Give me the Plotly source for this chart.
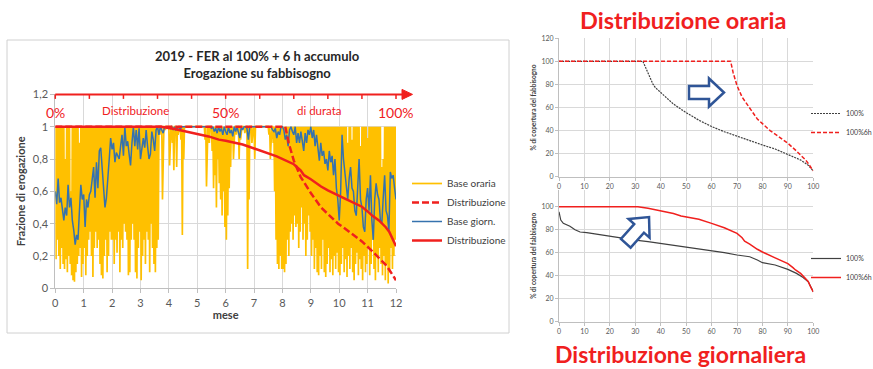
import numpy as np
import plotly.graph_objects as go

W, H = 873, 369

# ---------------- left chart: year 2019, x in months (step 0.05 month) ----------------
PASSO = 0.05

# daily supply / demand ratio ("Base giorn.")
base_giorn = [
    0.60, 0.52, 0.68, 0.53, 0.56, 0.50, 0.42, 0.50, 0.45, 0.64, 0.50, 0.56, 0.42, 0.36, 0.27, 0.33, 0.30, 0.48, 0.64, 0.55,
    0.58, 0.38, 0.55, 0.50, 0.58, 0.60, 0.66, 0.75, 0.56, 0.78, 0.62, 0.85, 0.87, 0.74, 0.62, 0.50, 0.56, 0.66, 0.80, 0.93,
    0.86, 0.90, 0.78, 0.84, 0.82, 0.80, 0.88, 0.95, 0.82, 1.00, 0.88, 0.91, 0.83, 0.76, 0.90, 1.00, 0.88, 0.98, 0.86, 0.99,
    0.80, 0.86, 0.93, 0.87, 0.98, 0.88, 0.80, 0.83, 0.97, 0.92, 0.85, 0.98, 1.00, 0.95, 1.00, 0.98, 0.96, 1.00, 1.00, 1.00,
    1.00, 0.99, 1.00, 0.98, 1.00, 0.98, 0.99, 1.00, 0.98, 1.00, 1.00, 1.00, 1.00, 1.00, 1.00, 1.00, 1.00, 1.00, 1.00, 1.00,
    1.00, 1.00, 1.00, 1.00, 1.00, 1.00, 1.00, 1.00, 1.00, 1.00, 0.99, 1.00, 0.97, 0.99, 0.96, 1.00, 0.97, 0.99, 0.95, 1.00,
    0.97, 0.95, 1.00, 0.96, 0.98, 0.94, 1.00, 0.97, 1.00, 0.96, 0.93, 1.00, 0.98, 1.00, 1.00, 0.99, 0.92, 1.00, 1.00, 1.00,
    1.00, 1.00, 1.00, 1.00, 1.00, 1.00, 1.00, 1.00, 1.00, 1.00, 1.00, 1.00, 1.00, 0.98, 0.97, 0.99, 0.93, 0.97, 0.95, 1.00,
    1.00, 0.98, 0.92, 0.95, 0.88, 0.98, 1.00, 0.97, 0.95, 1.00, 0.90, 0.96, 0.90, 0.97, 0.92, 0.85, 0.96, 0.90, 0.98, 0.95,
    1.00, 0.93, 0.98, 0.88, 0.95, 0.85, 0.79, 0.90, 0.82, 0.85, 0.77, 0.80, 0.73, 0.85, 0.78, 0.82, 0.70, 0.80, 0.62, 0.55,
    0.42, 0.60, 0.95, 0.80, 0.70, 0.62, 0.55, 0.68, 0.75, 0.62, 0.60, 0.48, 0.45, 0.62, 0.80, 0.55, 0.50, 0.38, 0.35, 0.55,
    0.62, 0.48, 0.70, 0.42, 0.30, 0.55, 0.65, 0.58, 0.55, 0.42, 0.40, 0.56, 0.70, 0.48, 0.45, 0.35, 0.72, 0.68, 0.70, 0.62,
    0.55,
]

# hourly ratio ("Base oraria"): lowest and highest hour in each 0.05-month slot
oraria_min = [
    0.18, 0.30, 0.20, 0.12, 0.25, 0.15, 0.12, 0.18, 0.10, 0.20, 0.15, 0.08, 0.05, 0.04, 0.10, 0.15, 0.20, 0.25, 0.07, 0.15,
    0.25, 0.08, 0.20, 0.30, 0.35, 0.20, 0.07, 0.25, 0.35, 0.25, 0.30, 0.15, 0.08, 0.06, 0.20, 0.30, 0.10, 0.20, 0.35, 0.30,
    0.30, 0.15, 0.30, 0.22, 0.35, 0.10, 0.30, 0.25, 0.40, 0.35, 0.30, 0.08, 0.10, 0.30, 0.40, 0.30, 0.10, 0.06, 0.25, 0.35,
    0.05, 0.20, 0.30, 0.15, 0.35, 0.30, 0.10, 0.40, 0.25, 0.15, 0.10, 0.25, 0.30, 1.00, 0.95, 0.55, 1.00, 0.98, 1.00, 1.00,
    0.76, 1.00, 0.90, 0.73, 1.00, 0.75, 0.95, 1.00, 0.92, 0.33, 0.80, 1.00, 1.00, 1.00, 1.00, 1.00, 1.00, 1.00, 1.00, 1.00,
    1.00, 1.00, 1.00, 1.00, 1.00, 0.92, 0.63, 1.00, 0.90, 1.00, 0.85, 0.62, 0.70, 0.50, 0.80, 0.65, 0.55, 0.45, 0.60, 0.38,
    0.30, 0.45, 0.62, 0.75, 0.90, 0.80, 1.00, 0.95, 1.00, 0.80, 0.92, 1.00, 1.00, 0.96, 1.00, 0.12, 0.55, 1.00, 0.90, 1.00,
    0.80, 1.00, 1.00, 1.00, 1.00, 1.00, 1.00, 1.00, 1.00, 1.00, 0.95, 0.80, 1.00, 0.90, 0.60, 0.30, 0.15, 0.12, 0.20, 0.12,
    0.12, 0.10, 0.15, 0.30, 0.20, 0.35, 0.40, 0.30, 0.45, 0.38, 0.40, 0.25, 0.35, 0.50, 0.30, 0.40, 0.20, 0.30, 0.45, 0.35,
    0.20, 0.30, 0.12, 0.25, 0.10, 0.08, 0.20, 0.12, 0.30, 0.10, 0.07, 0.15, 0.25, 0.10, 0.18, 0.08, 0.20, 0.12, 0.22, 0.10,
    0.08, 0.15, 0.25, 0.10, 0.18, 0.07, 0.20, 0.12, 0.25, 0.10, 0.05, 0.15, 0.22, 0.08, 0.18, 0.12, 0.05, 0.20, 0.10, 0.15,
    0.25, 0.08, 0.15, 0.30, 0.12, 0.05, 0.20, 0.10, 0.25, 0.15, 0.08, 0.20, 0.05, 0.15, 0.03, 0.10, 0.25, 0.12, 0.20, 0.30,
    0.35,
]
oraria_max = [
    1.00, 1.00, 1.00, 1.00, 1.00, 1.00, 1.00, 0.80, 1.00, 1.00, 1.00, 0.60, 1.00, 1.00, 1.00, 1.00, 1.00, 0.90, 1.00, 1.00,
    1.00, 1.00, 1.00, 1.00, 1.00, 1.00, 1.00, 1.00, 1.00, 1.00, 1.00, 1.00, 1.00, 1.00, 1.00, 1.00, 1.00, 1.00, 1.00, 1.00,
    1.00, 1.00, 1.00, 1.00, 1.00, 1.00, 1.00, 1.00, 1.00, 1.00, 1.00, 1.00, 1.00, 1.00, 1.00, 1.00, 1.00, 1.00, 1.00, 1.00,
    1.00, 1.00, 1.00, 1.00, 1.00, 1.00, 1.00, 1.00, 1.00, 1.00, 1.00, 1.00, 1.00, 1.00, 1.00, 1.00, 1.00, 1.00, 1.00, 1.00,
    1.00, 1.00, 1.00, 1.00, 1.00, 1.00, 1.00, 1.00, 1.00, 1.00, 1.00, 1.00, 1.00, 1.00, 1.00, 1.00, 1.00, 1.00, 1.00, 1.00,
    1.00, 1.00, 1.00, 1.00, 1.00, 1.00, 1.00, 1.00, 1.00, 1.00, 1.00, 1.00, 1.00, 1.00, 1.00, 1.00, 1.00, 1.00, 1.00, 1.00,
    1.00, 1.00, 1.00, 1.00, 1.00, 1.00, 1.00, 1.00, 1.00, 1.00, 1.00, 1.00, 1.00, 1.00, 1.00, 1.00, 1.00, 1.00, 1.00, 1.00,
    1.00, 1.00, 1.00, 1.00, 1.00, 1.00, 1.00, 1.00, 1.00, 1.00, 1.00, 1.00, 1.00, 1.00, 1.00, 1.00, 1.00, 1.00, 1.00, 1.00,
    1.00, 1.00, 1.00, 1.00, 1.00, 1.00, 1.00, 1.00, 1.00, 1.00, 1.00, 1.00, 1.00, 1.00, 1.00, 1.00, 1.00, 1.00, 1.00, 1.00,
    1.00, 1.00, 1.00, 1.00, 1.00, 1.00, 1.00, 1.00, 1.00, 1.00, 1.00, 1.00, 1.00, 1.00, 1.00, 1.00, 1.00, 1.00, 1.00, 1.00,
    1.00, 1.00, 1.00, 1.00, 1.00, 1.00, 0.90, 1.00, 1.00, 0.92, 1.00, 1.00, 1.00, 1.00, 1.00, 0.88, 1.00, 1.00, 1.00, 1.00,
    0.93, 1.00, 1.00, 1.00, 1.00, 1.00, 1.00, 1.00, 1.00, 1.00, 0.75, 0.80, 1.00, 1.00, 1.00, 1.00, 1.00, 1.00, 1.00, 1.00,
    1.00,
]

# ---------------- duration curves: % of the year vs % of demand covered ----------------
# hourly, FER 100%
dur_ora_x = [0, 33, 34, 35, 36, 37, 38, 40, 43, 45, 47, 50, 55, 60, 65, 70, 75, 80, 85, 90, 95, 98, 100]
dur_ora_y = [100, 100, 95, 90, 85, 80, 77, 73, 67, 63, 60, 55.5, 49, 43.5, 39, 35, 31.5, 27.5, 24, 19.5, 14.5, 10, 5]
# hourly, FER 100% + 6 h storage
dur_ora6_x = [0, 67.5, 68.5, 70, 72, 75, 78, 80, 83, 85, 88, 90, 93, 95, 97, 98, 99, 100]
dur_ora6_y = [100, 100, 90, 79, 69, 59, 50, 46, 40, 37, 32, 29, 23, 19, 14.5, 11.5, 8.5, 5]
# daily, FER 100%
dur_gio_x = [0, 0.7, 1.7, 4.3, 6.3, 8.3, 10.9, 14.8, 18.7, 24, 30, 35, 40, 45, 50, 55, 60, 65, 70, 75,
             78, 80, 85, 90, 93.4, 96, 98, 99, 100]
dur_gio_y = [95.6, 88.4, 85.5, 83, 80, 78, 77.4, 76, 74.5, 72.5, 71, 69.6, 68, 66.7, 64.6, 62.9, 61.7, 60, 58, 56.5,
             53.6, 51.3, 49.3, 45.5, 42, 38.5, 34.8, 30, 26]
# daily, FER 100% + 6 h storage
dur_gio6_x = [0, 31, 35, 40, 45, 48, 50, 55, 60, 63, 65, 70, 72, 73, 75, 78, 80, 85, 90, 92, 93, 95, 97, 98, 99, 100]
dur_gio6_y = [100, 100, 98.6, 96.5, 94, 92, 91.3, 89, 85.5, 83, 81.7, 76.8, 73, 70, 67.5, 63, 60.6, 55.5, 50.5, 47,
              45, 42, 37.8, 35, 30, 26]

MESI = 12
FONT = "Lato, 'Open Sans', sans-serif"
ROSSO = "#F0201E"
GIALLO = "#FFC000"
BLU = "#3572AE"
GRIGIO = "#404040"
GRID = "#D9D9D9"


def px(x):
    return x / W


def py(y):
    return 1 - y / H


# plot-area edges in pixels
L_X0, L_X1, L_Y0, L_Y1 = 55.3, 396.0, 288.3, 94.4        # left: 0..12 months, 0..1.2
R_X0, R_X1 = 559.0, 813.3
T_Y0, T_Y1 = 176.7, 38.3                                  # top right: 0..120
B_Y0, B_Y1 = 321.7, 190.0                                 # bottom right
B_TOP = 100 * (B_Y0 - B_Y1) / (B_Y0 - 206.7)


def lx(m):
    return L_X0 + m * (L_X1 - L_X0) / MESI


def ly(v):
    return L_Y0 - v * (L_Y0 - L_Y1) / 1.2


# hourly series drawn as a dense zig-zag between slot max and min
t = np.arange(len(oraria_max)) * PASSO
zx = np.empty(2 * len(t))
zy = np.empty(2 * len(t))
zx[0::2], zx[1::2] = t, t + PASSO / 2
zy[0::2], zy[1::2] = oraria_max, oraria_min
zx, zy = zx[:-1], zy[:-1]

fig = go.Figure()

fig.add_trace(go.Scatter(x=zx, y=zy, mode="lines", name="Base oraria", legend="legend", legendrank=1,
                         line=dict(color=GIALLO, width=1.7)))
fig.add_trace(go.Scatter(x=t, y=base_giorn, mode="lines", name="Base giorn.", legend="legend", legendrank=3,
                         line=dict(color=BLU, width=1.5)))
fig.add_trace(go.Scatter(x=np.array(dur_ora6_x) * MESI / 100, y=np.array(dur_ora6_y) / 100, mode="lines",
                         name="Distribuzione", legend="legend", legendrank=2,
                         line=dict(color=ROSSO, width=2.5, dash="7px,3px")))
fig.add_trace(go.Scatter(x=np.array(dur_gio6_x) * MESI / 100, y=np.array(dur_gio6_y) / 100, mode="lines",
                         name="Distribuzione", legend="legend", legendrank=4,
                         line=dict(color=ROSSO, width=2.5)))

# top right: hourly duration curves
fig.add_trace(go.Scatter(x=dur_ora_x, y=dur_ora_y, mode="lines", name="100%", legend="legend2",
                         xaxis="x2", yaxis="y2", line=dict(color=GRIGIO, width=1.2, dash="2px,1px")))
fig.add_trace(go.Scatter(x=dur_ora6_x, y=dur_ora6_y, mode="lines", name="100%6h", legend="legend2",
                         xaxis="x2", yaxis="y2", line=dict(color=ROSSO, width=1.5, dash="4px,2px")))

# bottom right: daily duration curves
fig.add_trace(go.Scatter(x=dur_gio_x, y=dur_gio_y, mode="lines", name="100%", legend="legend3",
                         xaxis="x3", yaxis="y3", line=dict(color=GRIGIO, width=1.2)))
fig.add_trace(go.Scatter(x=dur_gio6_x, y=dur_gio6_y, mode="lines", name="100%6h", legend="legend3",
                         xaxis="x3", yaxis="y3", line=dict(color=ROSSO, width=1.5)))

small_tick = dict(size=7, color="#595959", family=FONT)
axis_common = dict(showgrid=True, gridcolor=GRID, gridwidth=1, zeroline=False, showline=True,
                   linecolor="#BFBFBF", ticks="outside", tickcolor="#BFBFBF")

fig.update_layout(
    width=W, height=H,
    margin=dict(l=0, r=0, t=0, b=0, autoexpand=False),
    paper_bgcolor="white", plot_bgcolor="white",
    separators=",.",
    font=dict(family=FONT, color=GRIGIO),
    xaxis=dict(domain=[px(L_X0), px(L_X1)], range=[0, MESI], dtick=1, tick0=0, ticklen=4, anchor="y",
               tickfont=dict(size=11, color="#595959"),
               title=dict(text="<b>mese</b>", font=dict(size=11, color=GRIGIO), standoff=3), **axis_common),
    yaxis=dict(domain=[py(L_Y0), py(L_Y1)], range=[0, 1.2], dtick=0.2, tick0=0, ticklen=4, anchor="x",
               tickfont=dict(size=11, color="#595959"),
               title=dict(text="<b>Frazione di erogazione</b>", font=dict(size=11, color=GRIGIO), standoff=4),
               **axis_common),
    xaxis2=dict(domain=[px(R_X0), px(R_X1)], range=[0, 100], dtick=10, tick0=0, ticklen=3, anchor="y2",
                tickfont=small_tick, **axis_common),
    yaxis2=dict(domain=[py(T_Y0), py(T_Y1)], range=[0, 120], dtick=20, tick0=0, ticklen=3, anchor="x2",
                tickfont=small_tick,
                title=dict(text="<b>% di copertura del fabbisogno</b>", font=dict(size=6.5, color=GRIGIO), standoff=4),
                **axis_common),
    xaxis3=dict(domain=[px(R_X0), px(R_X1)], range=[0, 100], dtick=10, tick0=0, ticklen=3, anchor="y3",
                tickfont=small_tick, **axis_common),
    yaxis3=dict(domain=[py(B_Y0), py(B_Y1)], range=[0, B_TOP], tickvals=[0, 20, 40, 60, 80, 100], ticklen=3,
                anchor="x3", tickfont=small_tick,
                title=dict(text="<b>% di copertura del fabbisogno</b>", font=dict(size=6.5, color=GRIGIO), standoff=4),
                **axis_common),
    legend=dict(x=px(407), y=py(169), xanchor="left", yanchor="top", bgcolor="rgba(0,0,0,0)",
                font=dict(size=10, color=GRIGIO), tracegroupgap=0),
    legend2=dict(x=px(806), y=py(99), xanchor="left", yanchor="top", bgcolor="rgba(0,0,0,0)",
                 font=dict(size=7, color=GRIGIO), tracegroupgap=0),
    legend3=dict(x=px(806), y=py(244), xanchor="left", yanchor="top", bgcolor="rgba(0,0,0,0)",
                 font=dict(size=7, color=GRIGIO), tracegroupgap=0),
)

shapes = []
# frame of the left chart
shapes.append(dict(type="rect", xref="paper", yref="paper", x0=px(7), x1=px(509), y0=py(333), y1=py(40),
                   line=dict(color="#D0D0D0", width=1), layer="below"))
# red duration arrow along the top of the left chart
shapes.append(dict(type="line", xref="paper", yref="paper", x0=px(lx(0)), x1=px(404), y0=py(ly(1.2)), y1=py(ly(1.2)),
                   line=dict(color=ROSSO, width=2)))
shapes.append(dict(type="path", xref="paper", yref="paper", fillcolor=ROSSO, line=dict(color=ROSSO, width=1),
                   path=f"M{px(402)},{py(ly(1.2) - 5)} L{px(412.5)},{py(ly(1.2))} L{px(402)},{py(ly(1.2) + 5)} Z"))
for k in range(11):
    m = k * MESI / 10
    shapes.append(dict(type="line", xref="paper", yref="paper", x0=px(lx(m)), x1=px(lx(m)),
                       y0=py(ly(1.2)), y1=py(ly(1.2) + 4.5), line=dict(color=ROSSO, width=1.5)))


# hollow block arrows on the right charts
def freccia(cx, cy, ang_deg, lung=35, corpo=20, semi_c=6.5, semi_t=14):
    a = np.radians(ang_deg)
    d = np.array([np.cos(a), np.sin(a)])
    n = np.array([-d[1], d[0]])
    c = np.array([cx, cy])
    pts = [c + semi_c * n, c + corpo * d + semi_c * n, c + corpo * d + semi_t * n, c + lung * d,
           c + corpo * d - semi_t * n, c + corpo * d - semi_c * n, c - semi_c * n]
    return "M" + " L".join(f"{px(p[0]):.5f},{py(p[1]):.5f}" for p in pts) + " Z"


for cx, cy, ang in [(689, 92.5, 0), (625.8, 243.3, -48.4)]:
    shapes.append(dict(type="path", xref="paper", yref="paper", path=freccia(cx, cy, ang),
                       fillcolor="white", line=dict(color="#2F5597", width=2.5)))

annotations = [
    dict(x=px(257.7), y=py(65), text="<b>2019 - FER al 100% + 6 h accumulo</b><br><b>Erogazione su fabbisogno</b>",
         font=dict(size=13, color="#262626")),
    dict(x=px(lx(0)), y=py(112.7), text="0%", font=dict(size=14, color=ROSSO)),
    dict(x=px(135.7), y=py(111), text="Distribuzione", font=dict(size=11.5, color=ROSSO)),
    dict(x=px(lx(6)), y=py(112.7), text="50%", font=dict(size=14, color=ROSSO)),
    dict(x=px(319), y=py(111), text="di durata", font=dict(size=11.5, color=ROSSO)),
    dict(x=px(lx(12)), y=py(112.7), text="100%", font=dict(size=14, color=ROSSO)),
    dict(x=px(683), y=py(20), text="<b>Distribuzione oraria</b>", font=dict(size=23.5, color=ROSSO)),
    dict(x=px(680), y=py(354), text="<b>Distribuzione giornaliera</b>", font=dict(size=23, color=ROSSO)),
]
for a in annotations:
    a.update(xref="paper", yref="paper", showarrow=False, xanchor="center", yanchor="middle")

fig.update_layout(shapes=shapes, annotations=annotations)
fig.write_html("out.html")
